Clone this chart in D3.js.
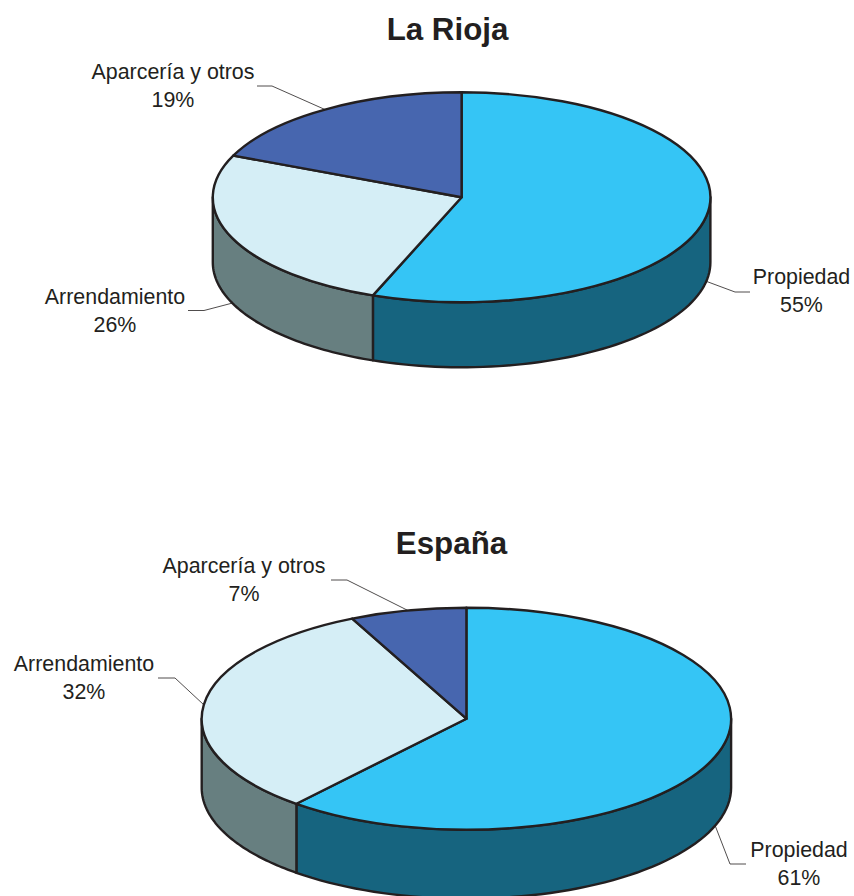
<!DOCTYPE html>
<html>
<head>
<meta charset="utf-8">
<script src="https://cdn.jsdelivr.net/npm/d3@7"></script>
<style>
  body { margin: 0; background: #fff; }
  text { font-family: "Liberation Sans", Arial, sans-serif; fill: #231F20; }
</style>
</head>
<body>
<div id="chart"></div>
<script>
var categories = ["Propiedad", "Arrendamiento", "Aparcería y otros"];

// slice sizes as drawn in the picture, the printed labels are rounded differently
var riojaValues = [55.8, 25.7, 18.5];
var riojaLabels = ["55%", "26%", "19%"];
var espanaValues = [61.1, 31.8, 7.1];
var espanaLabels = ["61%", "32%", "7%"];

var topColors = d3.scaleOrdinal().domain(categories).range(["#35C5F5", "#D5EEF6", "#4766AF"]);
var wallColors = d3.scaleOrdinal().domain(categories).range(["#16647F", "#677F80", "#4766AF"]);

var width = 854, height = 896;
var strokeColor = "#231F20";

// label = centre x / baseline of the first text line, elbow = where the leader bends
var charts = [
    {
        title: "La Rioja", titleX: 447.5, titleY: 40,
        values: riojaValues, labels: riojaLabels,
        cx: 461.6, cy: 197.3, rx: 248.8, ry: 105, depth: 65,
        label: [[801.5, 284], [115, 304], [173, 79]],
        elbow: [[735, 292], [204, 310.5], [272, 86]],
        leaderEnd: [750, 188, 257]
    },
    {
        title: "España", titleX: 451.5, titleY: 553.5,
        values: espanaValues, labels: espanaLabels,
        cx: 466.4, cy: 718.7, rx: 264.7, ry: 111, depth: 69,
        label: [[799, 857], [84, 671], [244, 573]],
        elbow: [[730, 864], [175, 678], [347, 580]],
        leaderEnd: [746, 158, 331]
    }
];

var svg = d3.select("#chart")
    .append("svg")
    .attr("width", width)
    .attr("height", height);

var pie = d3.pie().sort(null).value(function (d) { return d; });
var line = d3.line();

charts.forEach(function (c) {
    var slices = pie(c.values);

    // angles are d3.arc angles, 0 at the top going clockwise
    function px(a) { return c.cx + c.rx * Math.sin(a); }
    function py(a) { return c.cy - c.ry * Math.cos(a); }

    svg.append("text")
        .attr("x", c.titleX)
        .attr("y", c.titleY)
        .attr("text-anchor", "middle")
        .attr("font-weight", "bold")
        .style("font-size", "31.3px")
        .text(c.title);

    // side walls, only the part of a slice facing the viewer
    slices.forEach(function (s, i) {
        var a0 = Math.max(s.startAngle, Math.PI / 2);
        var a1 = Math.min(s.endAngle, Math.PI * 1.5);
        if (a1 <= a0) return;
        var steps = d3.range(0, 61).map(function (k) { return a0 + (a1 - a0) * k / 60; });
        var upper = steps.map(function (a) { return [px(a), py(a)]; });
        var lower = steps.slice().reverse().map(function (a) { return [px(a), py(a) + c.depth]; });
        svg.append("path")
            .attr("d", line(upper.concat(lower)) + "Z")
            .attr("fill", wallColors(categories[i]))
            .attr("stroke", strokeColor)
            .attr("stroke-width", 2.4)
            .attr("stroke-linejoin", "round");
    });

    var arc = d3.arc().innerRadius(0).outerRadius(c.rx);

    svg.append("g")
        .attr("transform", "translate(" + c.cx + "," + c.cy + ") scale(1," + (c.ry / c.rx) + ")")
        .selectAll("path")
        .data(slices)
        .enter()
        .append("path")
        .attr("d", arc)
        .attr("fill", function (d, i) { return topColors(categories[i]); })
        .attr("stroke", strokeColor)
        .attr("stroke-width", 2.4)
        .attr("stroke-linejoin", "round")
        .attr("vector-effect", "non-scaling-stroke");

    // leader lines start at the middle of each slice on the rim
    slices.forEach(function (s, i) {
        var mid = (s.startAngle + s.endAngle) / 2;
        var front = Math.cos(mid) < 0;
        var start = [px(mid), py(mid) + (front ? c.depth : 0)];
        var elbow = c.elbow[i];
        svg.append("path")
            .attr("d", line([start, elbow, [c.leaderEnd[i], elbow[1]]]))
            .attr("fill", "none")
            .attr("stroke", strokeColor)
            .attr("stroke-width", 0.8);

        var text = svg.append("text")
            .attr("text-anchor", "middle")
            .style("font-size", "21.4px");
        text.append("tspan")
            .attr("x", c.label[i][0])
            .attr("y", c.label[i][1])
            .text(categories[i]);
        text.append("tspan")
            .attr("x", c.label[i][0])
            .attr("y", c.label[i][1] + 28)
            .text(c.labels[i]);
    });
});
</script>
</body>
</html>
